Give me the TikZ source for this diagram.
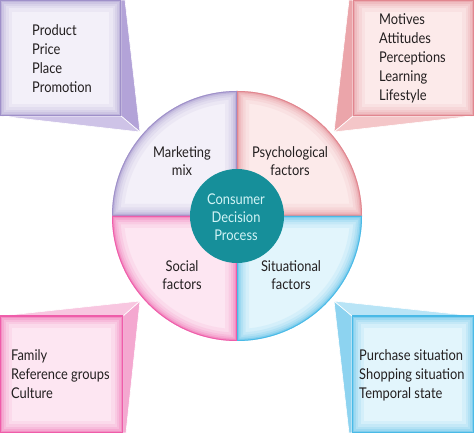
\documentclass[tikz,border=0pt]{standalone}
\usepackage{fontspec}
\setmainfont[FakeStretch=0.87]{Lato}
\definecolor{purL}{HTML}{F3F0F9}
\definecolor{purD}{HTML}{9585C4}
\definecolor{purS}{HTML}{B3A3D8}
\definecolor{purB}{HTML}{CEC3E7}
\definecolor{psyL}{HTML}{FCEAEA}
\definecolor{psyD}{HTML}{DF7A84}
\definecolor{psyS}{HTML}{EBA5AA}
\definecolor{psyB}{HTML}{F4C6C8}
\definecolor{socL}{HTML}{FDE6F2}
\definecolor{socD}{HTML}{EE4DA2}
\definecolor{socS}{HTML}{F4A8D0}
\definecolor{socB}{HTML}{F8C6E0}
\definecolor{sitL}{HTML}{E2F5FC}
\definecolor{sitD}{HTML}{38B4E5}
\definecolor{sitS}{HTML}{8DD3F0}
\definecolor{sitB}{HTML}{B8E4F6}
\definecolor{tealC}{HTML}{168F9A}
\definecolor{tealT}{HTML}{D2F4F6}
\definecolor{txtC}{HTML}{231F20}
\newcommand{\glowfill}[3]{%
  \begin{scope}
    \clip #3;
    \fill[#1] #3;
    \draw[#2, line width=24pt, opacity=0.08] #3;
    \draw[#2, line width=17pt, opacity=0.10] #3;
    \draw[#2, line width=12pt, opacity=0.12] #3;
    \draw[#2, line width=8pt, opacity=0.16] #3;
    \draw[#2, line width=4.5pt, opacity=0.28] #3;
    \draw[#2, line width=2pt, opacity=0.75] #3;
  \end{scope}}
\tikzset{
  lbl/.style={inner sep=0pt, text=txtC, align=left, font=\fontsize{14.8}{19}\selectfont},
  clbl/.style={inner sep=0pt, text=txtC, align=center, font=\fontsize{14.8}{18}\selectfont},
  facet/.style={draw=white, line width=0.6pt, line join=round}
}
\begin{document}
\begin{tikzpicture}[x=1pt,y=1pt]
\useasboundingbox (0,0) rectangle (474,433);
\coordinate (c) at (237,217);
% ---------- callouts ----------
% top-left (purple)
\fill[purS, facet] (121,433) -- (125,433) -- (140,301) -- (121,317) -- cycle;
\fill[purB, facet] (0,317) -- (121,317) -- (140,301) -- cycle;
\glowfill{purL}{purD}{(0,317) rectangle (121,433)}
% top-right (psych)
\fill[psyS, facet] (353,433) -- (349,433) -- (334,301) -- (353,317) -- cycle;
\fill[psyB, facet] (474,317) -- (353,317) -- (334,301) -- cycle;
\glowfill{psyL}{psyD}{(353,317) rectangle (474,433)}
% bottom-left (social)
\fill[socS, facet] (123,117) -- (140,132) -- (126,0) -- (123,0) -- cycle;
\fill[socB, facet] (0,117) -- (123,117) -- (140,132) -- cycle;
\glowfill{socL}{socD}{(0,0) rectangle (123,117)}
% bottom-right (situational)
\fill[sitS, facet] (352,117) -- (334,132) -- (349,0) -- (352,0) -- cycle;
\fill[sitB, facet] (474,117) -- (352,117) -- (334,132) -- cycle;
\glowfill{sitL}{sitD}{(352,0) rectangle (474,117)}
% ---------- quadrants ----------
\glowfill{purL}{purD}{(237,217) -- (112,217) arc[start angle=180,end angle=90,radius=125] -- cycle}
\glowfill{psyL}{psyD}{(237,217) -- (237,342) arc[start angle=90,end angle=0,radius=125] -- cycle}
\glowfill{socL}{socD}{(237,217) -- (237,92) arc[start angle=270,end angle=180,radius=125] -- cycle}
\glowfill{sitL}{sitD}{(237,217) -- (362,217) arc[start angle=0,end angle=-90,radius=125] -- cycle}
% ---------- centre ----------
\node[circle, fill=tealC, minimum size=94pt, inner sep=0pt] (core) at (c) {};
\node[clbl, text=tealT] (coretxt) at (236,216) {Consumer\\Decision\\Process};
% ---------- quadrant labels ----------
\node[clbl] (mm) at (182,272) {Marketing\\mix};
\node[clbl] (pf) at (290,272) {Psychological\\factors};
\node[clbl] (sf) at (182,158) {Social\\factors};
\node[clbl] (stf) at (291,158) {Situational\\factors};
% ---------- callout texts ----------
\node[lbl, anchor=west] (mmlist) at (32,374.5) {Product\\Price\\Place\\Promotion};
\node[lbl, anchor=west] (pflist) at (379,374.5) {Motives\\Attitudes\\Perceptions\\Learning\\Lifestyle};
\node[lbl, anchor=west] (sflist) at (11,58.5) {Family\\Reference groups\\Culture};
\node[lbl, anchor=west] (stlist) at (359,58) {Purchase situation\\Shopping situation\\Temporal state};
\end{tikzpicture}
\end{document}
